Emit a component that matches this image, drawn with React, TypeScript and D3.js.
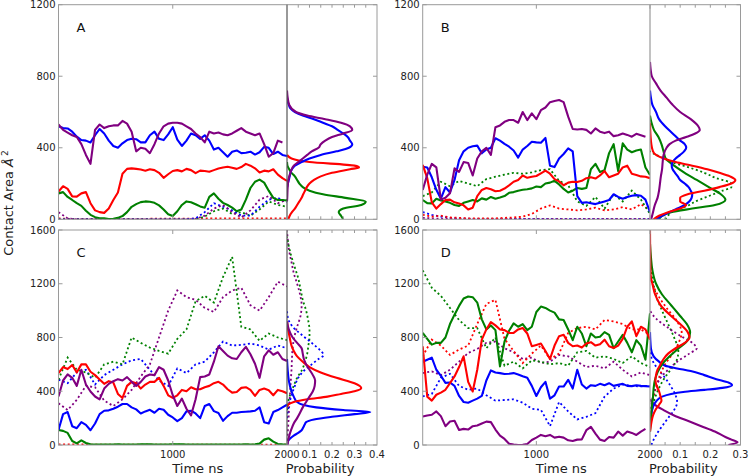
import React from "react";
import * as d3 from "d3";

const W = 749;
const H = 476;

const SOLID_STEP = 40; // ns between samples of the solid traces
const DOTTED_STEP = 80; // ns between samples of the dotted traces

const BLUE = "#0000ff";
const RED = "#ff0000";
const GREEN = "#008000";
const PURPLE = "#800080";

// ---------- Panel A ----------
const aPurple = [530,500,485,470,460,420,360,310,500,530,510,520,525,525,550,535,490,380,400,395,370,420,480,520,535,540,540,535,520,505,480,460,430,490,480,485,475,470,480,495,510,490,480,470,480,420,350,370,440,430];
const aBlue = [520,510,508,490,462,443,440,430,470,505,480,440,410,400,425,443,450,448,430,430,470,490,450,443,475,515,445,410,440,480,470,450,470,440,390,400,375,350,378,385,370,372,378,362,375,405,400,365,378,360,354];
const aRed = [155,185,170,128,127,145,152,90,50,40,36,60,108,150,255,282,285,282,278,272,280,275,260,232,252,270,275,268,282,275,258,272,270,266,275,284,290,294,288,282,292,310,300,285,262,272,268,280,250,230,215];
const aGreen = [145,152,125,108,90,75,48,25,12,6,5,2,3,8,18,40,70,85,96,100,98,92,78,55,28,18,45,80,100,95,84,72,65,125,145,115,92,80,65,45,55,110,175,210,222,205,160,120,108,108,105];
const aPurpleDot = [40,5,0,0,0,0,0,0,0,0,0,0,0,0,0,2,20,60,80,40,10,50,110,130,90,110];
const aBlueDot = [0,0,0,0,0,0,0,0,0,0,0,0,0,0,0,5,40,90,70,50,20,20,70,110,120,95];
const aGreenDot = [0,0,0,0,0,0,0,0,0,0,0,0,0,0,0,0,15,45,60,30,40,20,55,100,80,70];
const aRedDot = [5,3,2,2,2,2,2,2,2,2,3,3,3,3,3,3,5,5,5,5,5,5,5,5,5,5];

// densities: [contact area, probability]
const aBlueDens: [number, number][] = [[680,0],[660,0.003],[640,0.008],[620,0.015],[600,0.035],[580,0.07],[560,0.12],[540,0.16],[520,0.2],[500,0.225],[480,0.25],[460,0.27],[440,0.28],[420,0.29],[400,0.275],[380,0.22],[360,0.15],[340,0.1],[320,0.065],[300,0.035],[280,0.022],[260,0.015],[240,0.012],[220,0.008],[200,0.004],[180,0.001]];
const aPurpleDens: [number, number][] = [[720,0],[680,0.003],[640,0.01],[600,0.04],[580,0.09],[560,0.17],[540,0.24],[520,0.28],[500,0.29],[480,0.25],[460,0.2],[440,0.17],[420,0.15],[400,0.14],[380,0.11],[360,0.09],[340,0.07],[320,0.05],[300,0.03],[260,0.015],[220,0.006],[180,0.003],[120,0.001],[100,0]];
const aRedDens: [number, number][] = [[360,0],[340,0.02],[320,0.1],[300,0.3],[290,0.32],[280,0.28],[260,0.2],[240,0.15],[220,0.12],[200,0.1],[180,0.088],[160,0.08],[140,0.072],[120,0.065],[100,0.055],[80,0.045],[60,0.035],[40,0.022],[20,0.012],[0,0.006]];
const aGreenDens: [number, number][] = [[320,0],[300,0.002],[280,0.01],[260,0.02],[240,0.035],[220,0.045],[200,0.055],[180,0.07],[160,0.1],[140,0.16],[120,0.26],[100,0.35],[80,0.33],[60,0.25],[40,0.23],[20,0.24],[0,0.25]];

// ---------- Panel B ----------
const bPurple = [164,250,310,290,110,120,145,285,265,320,315,245,340,380,400,360,515,525,545,555,555,540,600,555,592,560,610,625,655,662,667,655,574,505,502,505,500,480,508,490,482,490,465,470,480,472,462,478,470,462];
const bBlue = [294,290,235,165,115,180,150,220,330,380,400,408,412,369,390,400,453,440,422,406,385,345,390,410,434,430,428,455,300,292,340,365,397,380,130,92,95,90,85,92,100,108,140,125,115,125,132,135,132,110,40];
const bRed = [304,230,95,60,85,108,110,95,88,78,55,65,130,164,175,168,157,160,172,190,210,220,245,232,238,242,257,272,255,225,212,190,205,210,208,215,230,235,228,245,270,235,245,255,290,300,255,248,240,238,230];
const bGreen = [108,90,89,115,105,100,92,80,75,92,100,108,100,117,110,125,115,122,130,148,152,160,165,168,173,183,180,200,205,215,195,170,150,160,175,170,175,280,310,265,275,370,420,270,425,390,375,385,390,290,248];
const bGreenDot = [130,150,210,185,215,200,185,225,238,250,260,255,262,275,280,215,190,100,75,125,60,140,100,160,110,30];
const bRedDot = [25,15,20,10,8,5,5,5,5,8,10,15,30,60,78,60,55,50,55,65,50,55,68,55,85,50];
const bBlueDot = [40,25,15,8,5,3,2,2,2,2,2,2,2,2,2,2,2,2,2,2,2,2,2,2,2,2];
const bPurpleDot = [8,5,3,2,2,2,2,2,2,2,2,2,2,2,2,2,2,2,2,2,2,2,2,2,2,2];

const bPurpleDens: [number, number][] = [[880,0],[840,0.002],[800,0.006],[760,0.02],[720,0.035],[680,0.055],[640,0.075],[600,0.1],[560,0.135],[520,0.16],[500,0.165],[480,0.15],[460,0.12],[440,0.085],[420,0.065],[400,0.055],[360,0.045],[320,0.042],[280,0.04],[240,0.036],[200,0.033],[160,0.03],[120,0.025],[80,0.016],[40,0.01],[0,0.004]];
const bBlueDens: [number, number][] = [[720,0],[680,0.003],[640,0.008],[600,0.02],[560,0.03],[520,0.05],[480,0.075],[440,0.1],[420,0.115],[400,0.12],[380,0.113],[360,0.1],[340,0.085],[320,0.075],[300,0.072],[280,0.075],[260,0.083],[240,0.092],[220,0.1],[200,0.115],[180,0.128],[160,0.135],[140,0.14],[120,0.138],[100,0.13],[80,0.115],[60,0.09],[40,0.065],[20,0.04],[0,0.02]];
const bRedDens: [number, number][] = [[540,0],[440,0.003],[380,0.01],[360,0.02],[340,0.045],[320,0.085],[300,0.14],[280,0.19],[260,0.23],[240,0.265],[220,0.283],[200,0.27],[180,0.23],[160,0.18],[140,0.125],[120,0.1],[100,0.1],[80,0.12],[60,0.1],[40,0.06],[20,0.03],[0,0.012]];
const bGreenDens: [number, number][] = [[580,0],[540,0.005],[500,0.013],[460,0.028],[420,0.038],[380,0.045],[340,0.052],[300,0.08],[260,0.115],[220,0.155],[180,0.195],[140,0.235],[110,0.25],[80,0.215],[60,0.14],[40,0.07],[20,0.04],[0,0.03]];
const bGreenDotDens: [number, number][] = [[380,0],[360,0.02],[340,0.05],[320,0.07],[300,0.11],[260,0.18],[230,0.22],[200,0.27],[180,0.27],[160,0.24],[140,0.21],[120,0.18],[100,0.15],[80,0.13],[60,0.1],[40,0.07],[20,0.06],[0,0.05]];

// ---------- Panel C ----------
const cBlue = [112,230,245,140,125,170,150,110,160,230,255,258,270,285,305,305,280,265,235,250,262,240,270,262,225,205,178,200,250,255,235,200,290,305,252,238,180,215,240,240,245,248,250,255,280,170,160,245,260,280,300];
const cRed = [535,580,565,595,540,600,600,545,520,488,455,475,465,380,350,440,470,460,420,450,470,470,500,440,370,350,370,410,400,430,415,415,430,440,460,470,450,415,390,395,425,430,410,365,410,420,408,370,410,400,385];
const cPurple = [361,480,525,500,440,560,450,398,361,340,420,455,475,490,480,505,470,440,470,510,525,520,580,560,480,370,290,345,270,220,340,505,510,525,620,735,700,665,645,640,690,730,675,605,500,660,705,672,690,640,625];
const cGreen = [112,105,90,30,12,35,15,5,4,3,3,3,4,5,4,3,3,4,5,6,5,4,3,3,4,5,6,5,4,3,3,4,3,3,4,4,3,3,3,4,4,5,4,6,10,40,50,25,8,5,3];
const cGreenDot = [486,650,560,540,500,600,620,600,800,760,725,700,680,790,860,1070,1110,1060,1250,1400,880,860,775,830,800,780];
const cPurpleDot = [310,260,336,440,430,330,290,340,410,510,600,800,1000,1150,1100,1080,1020,990,1100,1150,1170,1040,1000,1100,1215,1180];
const cBlueDot = [486,460,540,560,450,520,560,600,630,640,560,480,440,570,535,600,620,690,770,740,745,755,740,710,740,720];
const cRedDot = [5,5,4,4,3,3,3,3,3,3,3,3,3,3,3,3,3,3,3,3,3,3,3,3,3,3];

const cBlueDens: [number, number][] = [[640,0],[560,0.003],[480,0.008],[400,0.02],[360,0.03],[320,0.045],[300,0.07],[280,0.13],[260,0.25],[245,0.37],[230,0.3],[210,0.2],[190,0.12],[170,0.085],[150,0.078],[130,0.072],[110,0.065],[90,0.05],[70,0.03],[50,0.015],[30,0.005],[0,0]];
const cRedDens: [number, number][] = [[920,0],[860,0.005],[800,0.012],[740,0.02],[700,0.03],[660,0.045],[620,0.07],[580,0.1],[540,0.15],[500,0.22],[460,0.3],[425,0.33],[400,0.3],[380,0.24],[360,0.18],[340,0.09],[320,0.03],[300,0.005],[280,0]];
const cPurpleDens: [number, number][] = [[920,0],[860,0.008],[800,0.025],[760,0.045],[720,0.065],[680,0.07],[640,0.075],[600,0.085],[560,0.1],[520,0.115],[480,0.125],[440,0.123],[400,0.115],[360,0.1],[320,0.085],[280,0.07],[240,0.058],[200,0.045],[160,0.03],[120,0.02],[80,0.012],[40,0.006],[0,0.002]];
const cBlueDotDens: [number, number][] = [[1000,0],[940,0.005],[880,0.025],[820,0.065],[760,0.11],[700,0.15],[670,0.163],[640,0.14],[600,0.11],[560,0.08],[500,0.05],[440,0.035],[380,0.022],[320,0.012],[260,0.004],[200,0]];
const cGreenDotDens: [number, number][] = [[1550,0],[1480,0.008],[1400,0.02],[1320,0.035],[1240,0.05],[1160,0.06],[1080,0.07],[1000,0.085],[920,0.095],[860,0.1],[800,0.1],[740,0.095],[680,0.09],[620,0.08],[560,0.067],[500,0.045],[440,0.03],[380,0.015],[320,0.005],[260,0]];
const cPurpleDotDens: [number, number][] = [[1600,0],[1520,0.004],[1440,0.01],[1360,0.02],[1280,0.03],[1200,0.045],[1120,0.058],[1040,0.065],[960,0.06],[880,0.045],[800,0.032],[720,0.025],[640,0.022],[560,0.02],[480,0.017],[400,0.014],[320,0.011],[240,0.008],[160,0.006],[80,0.003],[0,0.002]];

// ---------- Panel D ----------
const dPurple = [212,220,225,250,215,140,175,180,112,120,115,140,145,160,174,170,115,70,45,10,3,0,2,8,37,55,75,65,75,55,62,55,35,30,40,42,110,135,85,40,30,60,55,100,70,100,90,75,100,120];
const dBlue = [620,635,650,560,515,462,465,440,365,320,315,330,345,365,480,555,540,535,528,530,535,525,512,500,440,365,430,470,345,370,435,435,485,420,560,450,420,445,440,455,445,460,440,448,455,440,438,445,440,438,435];
const dRed = [735,360,330,374,390,411,461,510,580,660,470,398,560,784,860,915,890,860,855,834,834,860,871,830,735,745,755,700,640,740,810,820,760,735,740,725,755,765,740,750,784,735,722,740,790,880,920,810,880,860,784];
const dGreen = [834,790,747,760,760,800,900,970,1035,1090,1105,1100,1060,935,860,890,855,585,770,850,905,880,900,855,880,990,1030,1020,1000,985,935,930,860,780,880,830,735,830,800,805,840,820,720,770,820,760,690,780,740,635,980];
const dGreenDot = [1300,1170,1110,1020,930,870,870,720,800,590,620,570,630,620,600,610,590,690,700,650,660,640,610,660,610,580];
const dRedDot = [660,784,740,670,710,740,900,1050,1080,790,700,610,680,740,640,680,834,870,880,860,930,920,900,860,860,820];
const dPurpleDot = [535,548,520,560,620,685,715,760,770,720,690,640,650,610,620,670,660,620,580,590,570,620,560,510,540,520];
const dBlueDot = [361,380,500,530,440,411,420,370,330,335,340,315,270,262,140,320,250,190,210,237,360,420,450,440,436,440];

const dBlueDens: [number, number][] = [[840,0],[720,0.003],[660,0.012],[620,0.03],[590,0.05],[570,0.09],[550,0.135],[520,0.18],[490,0.22],[465,0.26],[445,0.272],[425,0.24],[410,0.18],[395,0.11],[380,0.07],[360,0.04],[330,0.022],[300,0.013],[260,0.007],[220,0.004],[180,0.001],[160,0]];
const dPurpleDens: [number, number][] = [[340,0],[300,0.015],[260,0.045],[220,0.08],[180,0.125],[140,0.17],[100,0.215],[60,0.25],[40,0.27],[20,0.29],[0,0.26]];
const dRedDens: [number, number][] = [[1600,0],[1260,0.002],[1200,0.008],[1120,0.017],[1040,0.035],[960,0.07],[900,0.1],[840,0.125],[800,0.131],[760,0.115],[720,0.085],[680,0.06],[640,0.045],[600,0.035],[560,0.025],[520,0.02],[480,0.018],[440,0.022],[400,0.03],[360,0.035],[330,0.038],[300,0.03],[260,0.018],[220,0.01],[160,0.004],[100,0]];
const dGreenDens: [number, number][] = [[1500,0],[1400,0.003],[1300,0.008],[1200,0.02],[1120,0.04],[1040,0.07],[960,0.1],[900,0.122],[840,0.133],[780,0.125],[720,0.095],[660,0.065],[600,0.04],[540,0.025],[480,0.016],[420,0.012],[360,0.01],[300,0.007],[240,0.004],[160,0.002],[100,0]];
const dPurpleDotDens: [number, number][] = [[1000,0],[940,0.02],[880,0.055],[820,0.095],[760,0.14],[720,0.155],[680,0.13],[620,0.09],[560,0.06],[500,0.035],[440,0.022],[380,0.012],[320,0.006],[260,0.002],[200,0]];
const dRedDotDens: [number, number][] = [[1300,0],[1220,0.005],[1120,0.025],[1020,0.055],[920,0.09],[840,0.105],[760,0.095],[680,0.075],[600,0.05],[520,0.033],[440,0.022],[360,0.012],[280,0.005],[200,0]];
const dGreenDotDens: [number, number][] = [[1350,0],[1280,0.005],[1180,0.013],[1100,0.022],[1000,0.04],[900,0.06],[800,0.08],[700,0.094],[640,0.09],[580,0.075],[520,0.055],[460,0.038],[400,0.025],[340,0.015],[280,0.008],[220,0.004],[160,0]];
const dBlueDotDens: [number, number][] = [[700,0],[620,0.01],[560,0.028],[500,0.05],[440,0.068],[380,0.083],[320,0.09],[260,0.08],[200,0.06],[140,0.04],[80,0.022],[30,0.01],[0,0.005]];

const timeTicks = [1000, 2000];

type Series = { values: number[]; step: number; color: string; dotted?: boolean };
type Dens = { pts: [number, number][]; color: string; dotted?: boolean };
type Box = { left: number; mid: number; right: number; top: number; bottom: number };

const FONT = "DejaVu Sans, sans-serif";
const SPINE = "#9a9a9a";

function Panel(props: {
  id: string;
  box: Box;
  yMax: number;
  pMax: number;
  pTicks: number[];
  letter: string;
  series: Series[];
  dens: Dens[];
  bottomLabels: boolean;
  divider: string;
}) {
  const { id, box, yMax, pMax, pTicks, letter, series, dens, bottomLabels, divider } = props;
  const x = d3.scaleLinear().domain([0, 2000]).range([box.left, box.mid]);
  const p = d3.scaleLinear().domain([0, pMax]).range([box.mid, box.right]);
  const y = d3.scaleLinear().domain([0, yMax]).range([box.bottom, box.top]);
  const yTicks = d3.range(0, yMax + 1, 400);
  const minorP = d3.range(0.05, pMax - 0.001, 0.05);

  const dotted = series.filter((s) => s.dotted);
  const solid = series.filter((s) => !s.dotted);

  const pathFor = (s: Series) =>
    d3
      .line<number>()
      .x((_, i) => x(i * s.step))
      .y((v) => y(v))(s.values) || "";

  const densPath = (d: Dens) => {
    const pts = [...d.pts].sort((a, b) => a[0] - b[0]);
    return (
      d3
        .line<[number, number]>()
        .x((q) => p(q[1]))
        .y((q) => y(q[0]))
        .curve(d3.curveMonotoneY)(pts) || ""
    );
  };

  const dens2 = [...dens.filter((d) => d.dotted), ...dens.filter((d) => !d.dotted)];

  return (
    <g>
      <defs>
        <clipPath id={`${id}-t`}>
          <rect x={box.left} y={box.top} width={box.mid - box.left} height={box.bottom - box.top} />
        </clipPath>
        <clipPath id={`${id}-p`}>
          <rect x={box.mid} y={box.top} width={box.right - box.mid} height={box.bottom - box.top} />
        </clipPath>
      </defs>
      <rect x={box.left} y={box.top} width={box.right - box.left} height={box.bottom - box.top} fill="#fff" />

      <g clipPath={`url(#${id}-t)`}>
        {dotted.map((s, i) => (
          <path key={`d${i}`} d={pathFor(s)} fill="none" stroke={s.color} strokeWidth={1.8} strokeDasharray="2,2.6" />
        ))}
        {solid.map((s, i) => (
          <path key={`s${i}`} d={pathFor(s)} fill="none" stroke={s.color} strokeWidth={2.1} strokeLinejoin="round" />
        ))}
      </g>

      <g clipPath={`url(#${id}-p)`}>
        {dens2.map((d, i) => (
          <path
            key={i}
            d={densPath(d)}
            fill="none"
            stroke={d.color}
            strokeWidth={d.dotted ? 1.8 : 2.1}
            strokeDasharray={d.dotted ? "2,2.6" : undefined}
          />
        ))}
      </g>

      {/* spines */}
      <rect x={box.left} y={box.top} width={box.right - box.left} height={box.bottom - box.top} fill="none" stroke={SPINE} strokeWidth={1} />
      <line x1={box.mid} x2={box.mid} y1={box.top} y2={box.bottom} stroke={divider} strokeWidth={1.2} />

      {/* y ticks */}
      {yTicks.map((t) => (
        <g key={`y${t}`}>
          <line x1={box.left} x2={box.left + 4} y1={y(t)} y2={y(t)} stroke={SPINE} />
          <line x1={box.right - 4} x2={box.right} y1={y(t)} y2={y(t)} stroke={SPINE} />
          <text x={box.left - 3} y={y(t)} dy="0.35em" textAnchor="end" fontSize={10} fill="#222" fontFamily={FONT}>
            {t}
          </text>
        </g>
      ))}

      {/* time ticks */}
      {timeTicks.map((t) => (
        <g key={`t${t}`}>
          <line x1={x(t)} x2={x(t)} y1={box.bottom} y2={box.bottom - 4} stroke={SPINE} />
          <line x1={x(t)} x2={x(t)} y1={box.top} y2={box.top + 4} stroke={SPINE} />
        </g>
      ))}

      {/* probability ticks */}
      {minorP.map((t) => (
        <g key={`p${t}`}>
          <line x1={p(t)} x2={p(t)} y1={box.bottom} y2={box.bottom - 3} stroke={SPINE} />
          <line x1={p(t)} x2={p(t)} y1={box.top} y2={box.top + 3} stroke={SPINE} />
        </g>
      ))}

      <text x={box.left + 18} y={box.top + 27} fontSize={13} fontFamily={FONT} fill="#111">
        {letter}
      </text>

      {bottomLabels && (
        <g fontFamily={FONT} fill="#222">
          {timeTicks.map((t) => (
            <text key={`tl${t}`} x={x(t)} y={box.bottom + 12.5} textAnchor="middle" fontSize={10}>
              {t}
            </text>
          ))}
          {pTicks.map((t) => (
            <text key={`pl${t}`} x={p(t)} y={box.bottom + 12.5} textAnchor="middle" fontSize={10}>
              {d3.format(".1f")(t)}
            </text>
          ))}
          <text x={x(1000) + 25} y={box.bottom + 27.5} textAnchor="middle" fontSize={13}>
            Time ns
          </text>
          <text x={(box.mid + box.right) / 2 - 12} y={box.bottom + 27.5} textAnchor="middle" fontSize={13}>
            Probability
          </text>
        </g>
      )}
    </g>
  );
}

const S = (values: number[], color: string): Series => ({ values, step: SOLID_STEP, color });
const Dt = (values: number[], color: string): Series => ({ values, step: DOTTED_STEP, color, dotted: true });
const Dn = (pts: [number, number][], color: string, dotted = false): Dens => ({ pts, color, dotted });

export default function App() {
  const boxA: Box = { left: 58.5, mid: 287, right: 377, top: 4.7, bottom: 219.3 };
  const boxB: Box = { left: 422.7, mid: 650, right: 740.5, top: 4.7, bottom: 219.3 };
  const boxC: Box = { left: 58.5, mid: 287, right: 377, top: 230, bottom: 445 };
  const boxD: Box = { left: 422.7, mid: 650, right: 740.5, top: 230, bottom: 445 };

  return (
    <svg
      width={W}
      height={H}
      viewBox={`0 0 ${W} ${H}`}
      style={{ position: "absolute", left: 0, top: 0, display: "block", background: "#fff" }}
    >
      <rect width={W} height={H} fill="#fff" />
      <Panel
        id="pa"
        box={boxA}
        yMax={1200}
        pMax={0.4}
        pTicks={[0.1, 0.2, 0.3, 0.4]}
        letter="A"
        bottomLabels={false}
        divider="#555"
        series={[
          Dt(aRedDot, RED), Dt(aGreenDot, GREEN), Dt(aBlueDot, BLUE), Dt(aPurpleDot, PURPLE),
          S(aBlue, BLUE), S(aRed, RED), S(aGreen, GREEN), S(aPurple, PURPLE),
        ]}
        dens={[Dn(aGreenDens, GREEN), Dn(aRedDens, RED), Dn(aBlueDens, BLUE), Dn(aPurpleDens, PURPLE)]}
      />
      <Panel
        id="pb"
        box={boxB}
        yMax={1200}
        pMax={0.3}
        pTicks={[0.1, 0.2, 0.3]}
        letter="B"
        bottomLabels={false}
        divider="#999"
        series={[
          Dt(bBlueDot, BLUE), Dt(bPurpleDot, PURPLE), Dt(bRedDot, RED), Dt(bGreenDot, GREEN),
          S(bGreen, GREEN), S(bBlue, BLUE), S(bRed, RED), S(bPurple, PURPLE),
        ]}
        dens={[
          Dn(bGreenDotDens, GREEN, true),
          Dn(bGreenDens, GREEN), Dn(bBlueDens, BLUE), Dn(bRedDens, RED), Dn(bPurpleDens, PURPLE),
        ]}
      />
      <Panel
        id="pc"
        box={boxC}
        yMax={1600}
        pMax={0.4}
        pTicks={[0.1, 0.2, 0.3, 0.4]}
        letter="C"
        bottomLabels={true}
        divider="#555"
        series={[
          Dt(cRedDot, RED), Dt(cBlueDot, BLUE), Dt(cPurpleDot, PURPLE), Dt(cGreenDot, GREEN),
          S(cGreen, GREEN), S(cBlue, BLUE), S(cRed, RED), S(cPurple, PURPLE),
        ]}
        dens={[
          Dn(cPurpleDotDens, PURPLE, true), Dn(cGreenDotDens, GREEN, true), Dn(cBlueDotDens, BLUE, true),
          Dn(cBlueDens, BLUE), Dn(cRedDens, RED), Dn(cPurpleDens, PURPLE),
        ]}
      />
      <Panel
        id="pd"
        box={boxD}
        yMax={1600}
        pMax={0.3}
        pTicks={[0.1, 0.2, 0.3]}
        letter="D"
        bottomLabels={true}
        divider="#999"
        series={[
          Dt(dBlueDot, BLUE), Dt(dPurpleDot, PURPLE), Dt(dGreenDot, GREEN), Dt(dRedDot, RED),
          S(dPurple, PURPLE), S(dBlue, BLUE), S(dGreen, GREEN), S(dRed, RED),
        ]}
        dens={[
          Dn(dBlueDotDens, BLUE, true), Dn(dGreenDotDens, GREEN, true), Dn(dRedDotDens, RED, true), Dn(dPurpleDotDens, PURPLE, true),
          Dn(dPurpleDens, PURPLE), Dn(dBlueDens, BLUE), Dn(dGreenDens, GREEN), Dn(dRedDens, RED),
        ]}
      />
      <text transform="translate(13,203) rotate(-90)" textAnchor="middle" fontSize={13} fontFamily={FONT} fill="#222">
        Contact Area <tspan fontStyle="italic">Å</tspan>
        <tspan dx={2} dy={-5} fontSize={9}>2</tspan>
      </text>
    </svg>
  );
}
